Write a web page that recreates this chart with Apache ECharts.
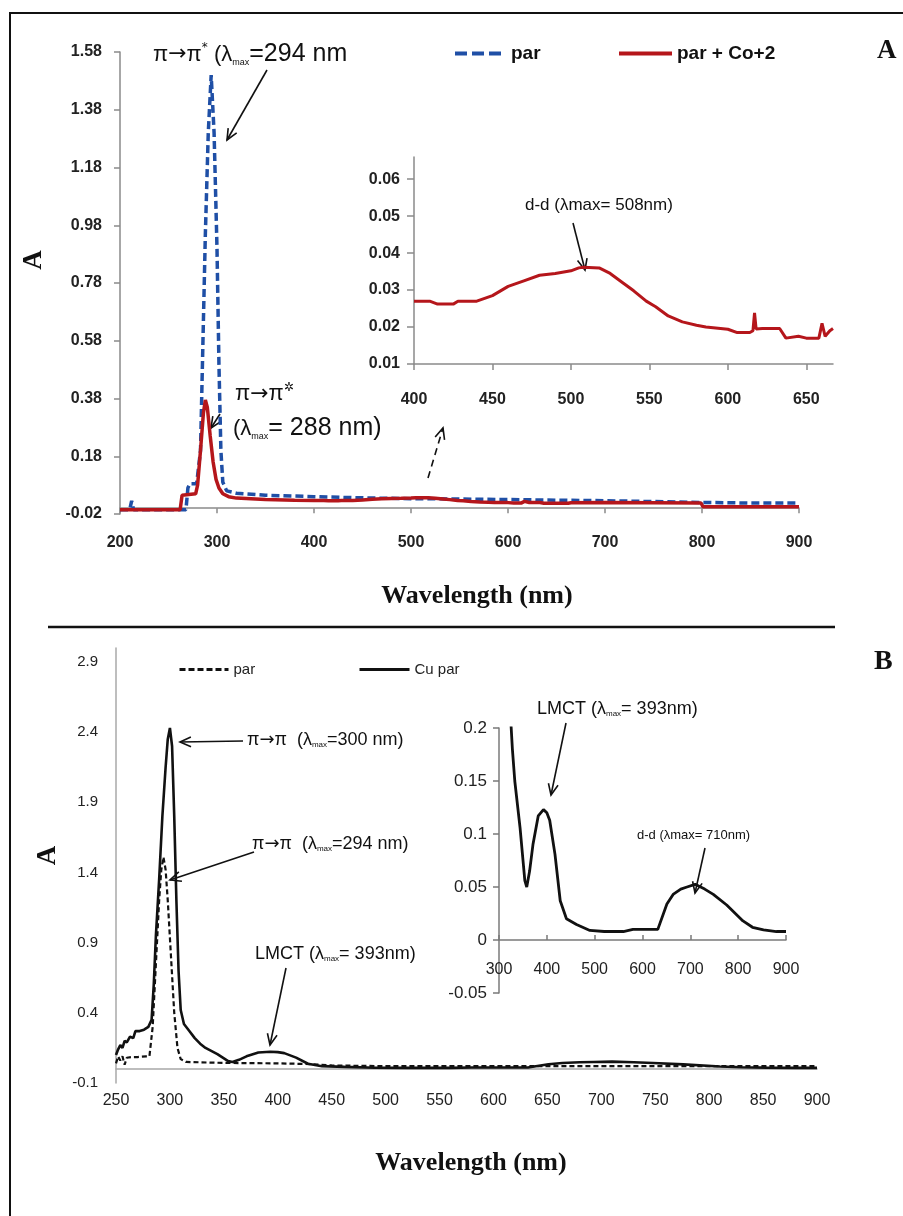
<!DOCTYPE html>
<html>
<head>
<meta charset="utf-8">
<script src="https://cdn.jsdelivr.net/npm/echarts@6/dist/echarts.min.js"></script>
<style>
  html, body { margin: 0; padding: 0; background: #fff; }
  #chart { width: 903px; height: 1216px; }
</style>
</head>
<body>
<div id="chart"></div>
<script>
// ---------- Panel A: free ligand (par) and its Co(II) complex ----------
const wavePar = [200, 210, 212, 214, 250, 268, 270, 272, 279, 281, 283, 285, 288, 291, 294, 297, 300, 302, 304, 306, 310, 320, 350, 400, 450, 500, 550, 600, 650, 700, 750, 800, 850, 900];
const absPar  = [-0.005, -0.005, 0.025, -0.005, -0.005, -0.005, 0.07, 0.085, 0.085, 0.09, 0.2, 0.5, 0.95, 1.3, 1.50, 1.3, 0.9, 0.5, 0.2, 0.09, 0.06, 0.052, 0.045, 0.04, 0.036, 0.033, 0.032, 0.03, 0.028, 0.026, 0.023, 0.02, 0.018, 0.018];

const waveCo = [200, 262, 264, 278, 280, 283, 286, 288, 290, 293, 296, 299, 302, 306, 312, 320, 350, 380,
  400, 410, 415, 425, 428, 440, 450, 460, 470, 480, 490, 500, 505, 508, 518, 525, 533, 540, 548, 554, 562, 571, 580, 586,
  600, 606, 614, 616, 617, 618, 622, 633, 637, 645, 650, 658, 660, 662, 665, 667, 700, 750, 799, 801, 850, 900];
const absCo  = [-0.005, -0.005, 0.045, 0.05, 0.08, 0.2, 0.33, 0.375, 0.35, 0.25, 0.16, 0.1, 0.07, 0.05, 0.04, 0.035, 0.03, 0.028,
  0.027, 0.027, 0.0262, 0.0262, 0.027, 0.027, 0.0285, 0.031, 0.0325, 0.034, 0.0345, 0.0352, 0.036, 0.0362, 0.036, 0.0345, 0.032, 0.0298, 0.027, 0.0255, 0.023, 0.0214, 0.0205, 0.02,
  0.0194, 0.0185, 0.0185, 0.019, 0.0238, 0.0195, 0.0196, 0.0196, 0.017, 0.0175, 0.017, 0.017, 0.021, 0.0175, 0.019, 0.0196, 0.02, 0.019, 0.018, 0.005, 0.005, 0.005];

const ticksA       = [-0.02, 0.18, 0.38, 0.58, 0.78, 0.98, 1.18, 1.38, 1.58];
const ticksInsetA  = [0.01, 0.02, 0.03, 0.04, 0.05, 0.06];
const ticksInsetAx = [400, 450, 500, 550, 600, 650];

// ---------- Panel B: free ligand (par) and its Cu(II) complex ----------
const waveParB = [250, 252, 254, 256, 258, 260, 265, 270, 278, 281, 284, 287, 290, 292, 294, 296, 298, 301, 304, 307, 310, 315, 350, 400, 430, 450, 500, 600, 700, 800, 900];
const absParB  = [0.04, 0.09, 0.06, 0.09, 0.03, 0.08, 0.085, 0.085, 0.09, 0.09, 0.3, 0.75, 1.2, 1.42, 1.51, 1.42, 1.2, 0.8, 0.4, 0.15, 0.07, 0.05, 0.043, 0.04, 0.035, 0.025, 0.02, 0.02, 0.02, 0.02, 0.02];

const waveCu = [250, 252, 254, 256, 258, 260, 263, 266, 268, 272, 276, 280, 283, 285, 287, 290, 293, 296, 298, 300, 302, 304, 306, 308, 310, 313, 318, 323, 328, 333,
  344, 354, 358, 364, 371, 382, 393, 400, 406, 417, 428, 441, 462, 490, 520, 560, 580, 600, 632, 651, 664, 680, 693, 710, 730, 748, 776, 810, 830, 853, 880, 900];
const absCu  = [0.1, 0.14, 0.17, 0.15, 0.2, 0.19, 0.23, 0.22, 0.27, 0.27, 0.28, 0.3, 0.35, 0.6, 0.95, 1.35, 1.8, 2.15, 2.35, 2.43, 2.3, 1.8, 1.2, 0.7, 0.42, 0.32, 0.27, 0.22, 0.18, 0.15,
  0.106, 0.056, 0.05, 0.065, 0.09, 0.117, 0.123, 0.12, 0.113, 0.081, 0.037, 0.02, 0.0146, 0.009, 0.008, 0.008, 0.01, 0.01, 0.01, 0.034, 0.043, 0.048, 0.05, 0.0525, 0.048, 0.043, 0.033, 0.018, 0.012, 0.0095, 0.008, 0.008];

const ticksB = [-0.1, 0.4, 0.9, 1.4, 1.9, 2.4, 2.9];

const zip = (xs, ys) => xs.map((x, i) => [x, ys[i]]);
const inRange = (pts, lo, hi) => pts.filter(p => p[0] >= lo && p[0] <= hi);

const NARROW = '"Liberation Sans Narrow", "Liberation Sans", Arial, sans-serif';
const SERIF = '"Liberation Serif", "DejaVu Serif", serif';
const BLUE = '#1f4fa6';
const RED = '#b5161b';
const INK = '#111';

// open "V" arrow from tail (x1,y1) to head (x2,y2)
function arrow(x1, y1, x2, y2, dashed) {
  const ang = Math.atan2(y2 - y1, x2 - x1);
  const len = 12, spread = 0.42;
  const p1 = [x2 - len * Math.cos(ang - spread), y2 - len * Math.sin(ang - spread)];
  const p2 = [x2 - len * Math.cos(ang + spread), y2 - len * Math.sin(ang + spread)];
  const st = { stroke: INK, lineWidth: 1.6, lineDash: dashed ? [7, 5] : null };
  return {
    type: 'group',
    children: [
      { type: 'line', shape: { x1, y1, x2, y2 }, style: st },
      { type: 'polyline', shape: { points: [p1, [x2, y2], p2] }, style: { stroke: INK, lineWidth: 1.6, fill: null } }
    ]
  };
}

function label(x, y, text, rich) {
  return { type: 'text', left: x, top: y, style: { text, rich, fill: INK, fontFamily: NARROW } };
}

const ARROW_FONT = '"DejaVu Sans", sans-serif';
const richBig = {
  n:   { fontSize: 22, fontFamily: NARROW, color: INK },
  ar:  { fontSize: 22, fontFamily: ARROW_FONT, color: INK },
  big: { fontSize: 25, fontFamily: NARROW, color: INK },
  sub: { fontSize: 9, fontFamily: NARROW, color: INK, verticalAlign: 'bottom', padding: [8, 0, 0, 0] },
  sup: { fontSize: 12, fontFamily: ARROW_FONT, color: INK, verticalAlign: 'top', padding: [0, 0, 12, 0] }
};
const richMid = {
  n:   { fontSize: 18, fontFamily: NARROW, color: INK },
  ar:  { fontSize: 18, fontFamily: ARROW_FONT, color: INK },
  sub: { fontSize: 8, fontFamily: NARROW, color: INK, verticalAlign: 'bottom', padding: [6, 0, 0, 0] }
};

const chart = echarts.init(document.getElementById('chart'), null, { renderer: 'canvas' });

const axisGrey = { lineStyle: { color: '#8a8a8a', width: 1.5 } };
const legendBase = { padding: 0, itemStyle: { opacity: 0 } };

const option = {
  animation: false,
  backgroundColor: '#fff',
  grid: [
    { left: 120, right: 104, top: 52, bottom: 702 },
    { left: 414, right: 70, top: 157, bottom: 852 },
    { left: 116, right: 86, top: 648, bottom: 133 },
    { left: 499, right: 117, top: 728, bottom: 223 }
  ],
  legend: [
    Object.assign({ data: ['par'], left: 453, top: 44, itemWidth: 47, itemHeight: 16,
      lineStyle: { width: 4, type: [12, 5] },
      textStyle: { fontFamily: NARROW, fontWeight: 'bold', fontSize: 19, color: INK, padding: [0, 0, 0, 4] } }, legendBase),
    Object.assign({ data: ['par + Co+2'], left: 617, top: 44, itemWidth: 53, itemHeight: 16,
      lineStyle: { width: 4 },
      textStyle: { fontFamily: NARROW, fontWeight: 'bold', fontSize: 19, color: INK } }, legendBase),
    Object.assign({ data: ['par (panel B)'], left: 178, top: 662, itemWidth: 49, itemHeight: 14,
      lineStyle: { width: 3, type: [6, 3] },
      formatter: () => 'par',
      textStyle: { fontFamily: NARROW, fontSize: 15, color: '#222' } }, legendBase),
    Object.assign({ data: ['Cu par'], left: 358, top: 662, itemWidth: 50, itemHeight: 14,
      lineStyle: { width: 3 },
      textStyle: { fontFamily: NARROW, fontSize: 15, color: '#222' } }, legendBase)
  ],
  xAxis: [
    { gridIndex: 0, type: 'value', min: 200, max: 900, interval: 100,
      axisLine: axisGrey, axisTick: { show: true, length: 5, lineStyle: { color: '#8a8a8a', width: 1.5 } },
      splitLine: { show: false },
      axisLabel: { margin: 21, fontFamily: NARROW, fontWeight: 'bold', fontSize: 16, color: '#222' },
      name: 'Wavelength (nm)', nameLocation: 'middle', nameGap: 69,
      nameTextStyle: { fontFamily: SERIF, fontWeight: 'bold', fontSize: 26, color: INK, padding: [0, 0, 0, 35] } },
    { gridIndex: 1, type: 'value', min: 400, max: 667,
      axisLine: axisGrey,
      axisTick: { show: true, length: 6, customValues: ticksInsetAx, lineStyle: { color: '#8a8a8a', width: 1.5 } },
      splitLine: { show: false },
      axisLabel: { margin: 28, customValues: ticksInsetAx, fontFamily: NARROW, fontWeight: 'bold', fontSize: 16, color: '#222' } },
    { gridIndex: 2, type: 'value', min: 250, max: 900, interval: 50,
      axisLine: { lineStyle: { color: '#a8a8a8', width: 1.5 } }, axisTick: { show: false },
      splitLine: { show: false },
      axisLabel: { margin: 10, fontFamily: NARROW, fontSize: 16, color: '#222' },
      name: 'Wavelength (nm)', nameLocation: 'middle', nameGap: 67,
      nameTextStyle: { fontFamily: SERIF, fontWeight: 'bold', fontSize: 26, color: INK, padding: [0, 0, 0, 9] } },
    { gridIndex: 3, type: 'value', min: 300, max: 900, interval: 100,
      axisLine: { lineStyle: { color: '#7a7a7a', width: 1.5 } },
      axisTick: { show: true, inside: true, length: 5, lineStyle: { color: '#7a7a7a', width: 1.5 } },
      splitLine: { show: false },
      axisLabel: { margin: -31, fontFamily: NARROW, fontSize: 16, color: '#222' } }
  ],
  yAxis: [
    { gridIndex: 0, type: 'value', min: -0.02, max: 1.58,
      axisLine: { show: true, lineStyle: { color: '#8a8a8a', width: 1.5 } },
      axisTick: { show: true, length: 6, customValues: ticksA, lineStyle: { color: '#8a8a8a', width: 1.5 } },
      splitLine: { show: false },
      axisLabel: { margin: 18, customValues: ticksA, formatter: v => v.toFixed(2),
        fontFamily: NARROW, fontWeight: 'bold', fontSize: 16, color: '#222' },
      name: 'A', nameLocation: 'middle', nameGap: 72, nameRotate: 90,
      nameTextStyle: { fontFamily: SERIF, fontWeight: 'bold', fontSize: 27, color: INK, padding: [0, 0, 0, 46] } },
    { gridIndex: 1, type: 'value', min: 0.01, max: 0.066,
      axisLine: { show: true, lineStyle: { color: '#8a8a8a', width: 1.5 } },
      axisTick: { show: true, length: 7, customValues: ticksInsetA, lineStyle: { color: '#8a8a8a', width: 1.5 } },
      splitLine: { show: false },
      axisLabel: { margin: 14, customValues: ticksInsetA, formatter: v => v.toFixed(2),
        fontFamily: NARROW, fontWeight: 'bold', fontSize: 16, color: '#222' } },
    { gridIndex: 2, type: 'value', min: -0.1, max: 3.0,
      axisLine: { show: true, lineStyle: { color: '#a8a8a8', width: 1.5 } },
      axisTick: { show: false },
      splitLine: { show: false },
      axisLabel: { margin: 18, customValues: ticksB, formatter: v => String(Number(v.toFixed(1))),
        fontFamily: NARROW, fontSize: 15, color: '#222' },
      name: 'A', nameLocation: 'middle', nameGap: 47, nameRotate: 90,
      nameTextStyle: { fontFamily: SERIF, fontWeight: 'bold', fontSize: 27, color: INK, padding: [0, 0, 0, 20] } },
    { gridIndex: 3, type: 'value', min: -0.05, max: 0.2, interval: 0.05,
      axisLine: { show: true, lineStyle: { color: '#7a7a7a', width: 1.5 } },
      axisTick: { show: true, length: 6, lineStyle: { color: '#7a7a7a', width: 1.5 } },
      splitLine: { show: false },
      axisLabel: { margin: 12, fontFamily: NARROW, fontSize: 17, color: '#222' } }
  ],
  series: [
    { name: 'par', type: 'line', xAxisIndex: 0, yAxisIndex: 0, symbol: 'none',
      data: zip(wavePar, absPar), lineStyle: { color: BLUE, width: 3.5, type: [8, 4] }, itemStyle: { color: BLUE } },
    { name: 'par + Co+2', type: 'line', xAxisIndex: 0, yAxisIndex: 0, symbol: 'none',
      data: zip(waveCo, absCo), lineStyle: { color: RED, width: 3.5 }, itemStyle: { color: RED } },
    { name: 'par + Co+2', type: 'line', xAxisIndex: 1, yAxisIndex: 1, symbol: 'none',
      data: inRange(zip(waveCo, absCo), 400, 667), lineStyle: { color: RED, width: 3 }, itemStyle: { color: RED } },
    { name: 'par (panel B)', type: 'line', xAxisIndex: 2, yAxisIndex: 2, symbol: 'none',
      data: zip(waveParB, absParB), lineStyle: { color: INK, width: 2.2, type: [5, 3] }, itemStyle: { color: INK } },
    { name: 'Cu par', type: 'line', xAxisIndex: 2, yAxisIndex: 2, symbol: 'none',
      data: zip(waveCu, absCu), lineStyle: { color: INK, width: 2.6 }, itemStyle: { color: INK } },
    { name: 'Cu par', type: 'line', xAxisIndex: 3, yAxisIndex: 3, symbol: 'none', clip: true,
      data: zip(waveCu, absCu).filter(p => p[0] >= 318), lineStyle: { color: INK, width: 2.8 }, itemStyle: { color: INK } }
  ],
  graphic: [
    // figure frame and panel divider
    { type: 'polyline', shape: { points: [[10, 1216], [10, 13], [903, 13]] }, style: { stroke: INK, lineWidth: 2, fill: null } },
    { type: 'line', shape: { x1: 48, y1: 627, x2: 835, y2: 627 }, style: { stroke: INK, lineWidth: 2.5 } },
    // panel letters
    { type: 'text', left: 877, top: 38, style: { text: 'A', fontFamily: SERIF, fontWeight: 'bold', fontSize: 27, fill: INK } },
    { type: 'text', left: 874, top: 648, style: { text: 'B', fontFamily: SERIF, fontWeight: 'bold', fontSize: 28, fill: INK } },

    // panel A annotations
    label(153, 42, '{n|π}{ar|→}{n|π}{sup|*}{n| (λ}{sub|max}{big|=294 nm}', richBig),
    arrow(267, 70, 227, 140),
    label(235, 382, '{n|π}{ar|→}{n|π}{sup|✲}', richBig),
    label(233, 416, '{n|(λ}{sub|max}{big|= 288 nm)}', richBig),
    arrow(220, 414, 211, 428),
    arrow(428, 478, 443, 428, true),
    { type: 'text', left: 525, top: 197, style: { text: 'd-d (λmax= 508nm)', fontFamily: NARROW, fontSize: 17, fill: INK } },
    arrow(573, 223, 585, 270),

    // panel B annotations
    label(247, 731, '{n|π}{ar|→}{n|π  (λ}{sub|max}{n|=300 nm)}', richMid),
    arrow(243, 741, 180, 742),
    label(252, 835, '{n|π}{ar|→}{n|π  (λ}{sub|max}{n|=294 nm)}', richMid),
    arrow(254, 852, 170, 880),
    label(255, 945, '{n|LMCT (λ}{sub|max}{n|= 393nm)}', richMid),
    arrow(286, 968, 270, 1045),
    label(537, 700, '{n|LMCT (λ}{sub|max}{n|= 393nm)}', richMid),
    arrow(566, 723, 551, 795),
    { type: 'text', left: 637, top: 829, style: { text: 'd-d (λmax= 710nm)', fontFamily: NARROW, fontSize: 13, fill: INK } },
    arrow(705, 848, 695, 893)
  ]
};

chart.setOption(option);
</script>
</body>
</html>
